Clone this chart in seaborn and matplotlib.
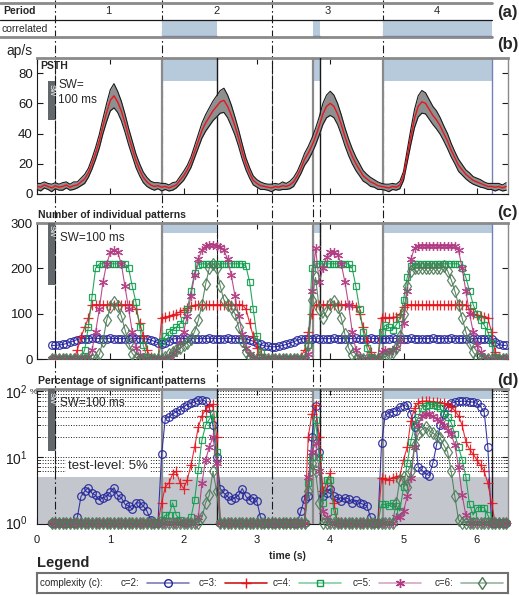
import numpy as np
import matplotlib
matplotlib.use("Agg")
import matplotlib.pyplot as plt
import matplotlib.ticker as mticker
from matplotlib.patches import Rectangle
import seaborn as sns

W, H = 519, 595

# ---------------- data ----------------
period_bounds = [0.25, 1.7, 3.2, 4.72, 6.2]
period_labels = ["1", "2", "3", "4"]
correlated_spans = [(1.7, 2.45), (3.76, 3.86), (4.72, 6.2)]
test_level = 5
sw_start, sw_end = 0.15, 0.25

# PSTH (ap/s), 0.00 .. 6.40 s in 50 ms bins
psth_mean = [5, 4.5, 6, 5, 4, 5.5, 4.5, 5, 6, 4.5, 5.5, 6, 8, 10, 14, 20, 27, 35, 45, 54,
             62, 65, 61, 55, 47, 38, 30, 22, 16, 11, 8, 6, 5, 5.5, 4.5, 5, 4, 5, 6, 9,
             12, 16, 21, 28, 35, 42, 47, 51, 55, 58, 61, 62, 58, 52, 45, 37, 28, 20, 14, 9,
             7, 5.5, 5, 4.5, 4, 5, 4.5, 5.5, 5, 6, 8, 12, 17, 23, 27, 32, 38, 45, 53, 58,
             60, 58, 53, 46, 38, 31, 25, 20, 16, 12, 10, 8, 7, 5.5, 5, 4.5, 4, 5, 4.5, 6,
             12, 25, 38, 50, 58, 61, 60, 56, 52, 49, 45, 40, 35, 29, 24, 19, 16, 13, 11, 9,
             8, 7, 6, 5, 5, 4.5, 5, 4, 5]
psth_spread = [2, 2.5, 2, 2, 2.5, 2, 2, 2.5, 2, 2, 2.5, 2, 2.5, 3, 3, 3.5, 4, 4.5, 5, 6,
               7, 8, 7, 6.5, 6, 5.5, 5, 4.5, 4, 3.5, 3, 2.5, 2.5, 2, 2.5, 2, 2, 2.5, 2, 2.5,
               3, 3, 3.5, 4, 4.5, 5, 5.5, 6, 6.5, 7, 7.5, 8, 7.5, 7, 6, 5.5, 5, 4, 3.5, 3,
               2.5, 2.5, 2, 2, 2.5, 2, 2, 2.5, 2, 2.5, 3, 3, 3.5, 4, 4.5, 5, 5.5, 6, 7, 7.5,
               8, 7.5, 7, 6.5, 6, 5.5, 5, 4.5, 4, 3.5, 3, 3, 2.5, 2.5, 2, 2, 2.5, 2, 2, 2.5,
               3, 4, 5, 6, 7, 7.5, 7, 6.5, 6, 6, 5.5, 5, 5, 4.5, 4, 4, 3.5, 3, 3, 2.5,
               2.5, 2.5, 2, 2, 2, 2.5, 2, 2, 2.5]

# number of individual patterns, 0.20 .. 6.40 s
count_c2 = [30, 30, 31, 32, 34, 37, 40, 43, 45, 45, 45, 46, 46, 45, 45, 45, 46, 45, 45, 45,
            45, 45, 46, 45, 45, 45, 44, 42, 39, 36, 34, 35, 40, 44, 45, 45, 45, 46, 45, 45,
            45, 45, 45, 46, 45, 45, 45, 45, 46, 45, 45, 45, 45, 44, 42, 39, 35, 32, 29, 28,
            27, 27, 28, 30, 32, 35, 38, 41, 44, 45, 45, 45, 46, 45, 45, 45, 45, 46, 45, 45,
            45, 45, 45, 46, 45, 44, 45, 46, 45, 45, 45, 45, 45, 46, 45, 45, 45, 45, 46, 45,
            45, 45, 45, 45, 46, 45, 45, 45, 45, 46, 45, 45, 45, 45, 46, 45, 45, 45, 45, 45,
            44, 38, 32, 30, 30]
count_c3 = [0, 0, 0, 0, 0, 0, 0, 20, 48, 70, 90, 120, 120, 120, 120, 120, 120, 120, 120, 120,
            120, 120, 120, 110, 80, 50, 20, 5, 0, 0, 90, 92, 94, 96, 100, 104, 108, 112, 116, 119,
            120, 120, 120, 120, 120, 120, 120, 120, 120, 120, 120, 120, 120, 110, 80, 50, 25, 10, 0, 0,
            0, 0, 0, 0, 0, 0, 0, 0, 5, 20, 60, 100, 120, 120, 120, 120, 120, 120, 120, 120,
            120, 120, 120, 115, 100, 70, 40, 15, 0, 0, 90, 92, 90, 92, 93, 100, 115, 120, 120, 120,
            120, 120, 120, 120, 120, 120, 120, 120, 120, 120, 120, 120, 120, 120, 110, 100, 96, 94, 92, 90,
            60, 15, 0, 0, 0]
count_c4 = [0, 0, 0, 0, 0, 0, 0, 0, 0, 20, 70, 137, 200, 210, 210, 210, 210, 210, 210, 210,
            210, 200, 160, 125, 70, 30, 5, 0, 0, 0, 40, 50, 60, 65, 70, 78, 85, 110, 150, 190,
            208, 210, 210, 210, 210, 210, 210, 210, 210, 210, 210, 210, 210, 205, 170, 110, 50, 15, 0, 0,
            0, 0, 0, 0, 0, 0, 0, 0, 0, 0, 30, 200, 210, 210, 210, 210, 210, 210, 210, 210,
            210, 210, 200, 160, 110, 60, 25, 5, 0, 0, 60, 75, 70, 65, 75, 90, 130, 180, 205, 210,
            210, 210, 210, 210, 210, 210, 210, 210, 210, 210, 210, 210, 200, 180, 150, 120, 100, 85, 75, 60,
            35, 5, 0, 0, 0]
count_c5 = [0, 0, 0, 0, 0, 0, 0, 0, 0, 0, 5, 20, 60, 110, 170, 210, 235, 240, 235, 210,
            160, 110, 60, 25, 8, 0, 0, 0, 0, 0, 0, 2, 5, 10, 20, 35, 60, 95, 140, 185,
            220, 240, 250, 252, 252, 250, 248, 240, 220, 185, 140, 95, 55, 25, 10, 2, 0, 0, 0, 0,
            0, 0, 0, 0, 0, 0, 0, 0, 0, 0, 10, 150, 245, 170, 200, 225, 235, 236, 230, 210,
            170, 120, 60, 20, 5, 0, 0, 0, 0, 0, 15, 20, 15, 20, 25, 40, 80, 150, 220, 245,
            250, 250, 250, 250, 250, 250, 250, 250, 250, 250, 250, 240, 200, 150, 100, 60, 30, 15, 5, 0,
            0, 0, 0, 0, 0]
count_c6 = [0, 0, 0, 0, 0, 0, 0, 0, 0, 0, 0, 0, 0, 10, 40, 85, 115, 125, 118, 95,
            65, 35, 12, 3, 0, 0, 0, 0, 0, 0, 0, 5, 10, 15, 20, 25, 30, 35, 45, 60,
            85, 120, 165, 200, 210, 200, 160, 130, 120, 115, 100, 70, 40, 15, 5, 0, 0, 0, 0, 0,
            0, 0, 0, 0, 0, 0, 0, 0, 0, 0, 30, 130, 180, 110, 90, 105, 122, 128, 115, 90,
            55, 25, 8, 0, 0, 0, 0, 0, 0, 0, 0, 5, 10, 15, 25, 50, 100, 160, 195, 200,
            200, 200, 200, 200, 200, 200, 200, 205, 195, 175, 150, 120, 90, 60, 35, 15, 5, 0, 0, 0,
            0, 0, 0, 0, 0]

# percentage of significant patterns, 0.20 .. 6.40 s
pct_c2 = [1, 1, 1, 1, 1, 1, 1, 1.2, 2.5, 3.0, 3.4, 2.8, 2.6, 2.2, 2.4, 2.5, 2.9, 3.4, 2.6, 2.4,
          1.9, 1.8, 1.6, 2.0, 2.0, 1.8, 1.5, 1.1, 1, 1, 11, 38, 40, 45, 48, 52, 58, 62, 65, 68,
          72, 73, 70, 55, 30, 10, 3.3, 2.8, 2.5, 2.2, 2.4, 2.6, 3.3, 2.5, 2.2, 2.4, 2.1, 1.2, 1, 1,
          1, 1, 1, 1, 1, 1, 1, 1, 1.5, 2.3, 2.5, 20, 60, 12, 2.5, 2.8, 3.3, 2.5, 2.4, 2.1,
          2.4, 2.3, 2.0, 2.2, 2.0, 1.9, 1.8, 1.2, 1, 1, 16, 43, 46, 48, 50, 58, 60, 62, 45, 28,
          7, 6.3, 5.5, 5.2, 8, 15, 30, 45, 58, 65, 68, 70, 70, 70, 68, 68, 65, 58, 48, 14,
          1, 1, 1, 1, 1]
pct_c3 = [1, 1, 1, 1, 1, 1, 1, 1, 1, 1, 1, 1, 1, 1, 1, 1, 1, 1, 1, 1,
          1, 1, 1, 1, 1, 1, 1, 1, 1, 1, 2.0, 3.5, 4.0, 5.5, 6.0, 4.0, 3.3, 4.5, 7.5, 14,
          28, 42, 52, 60, 63, 20, 1, 1, 1, 1, 1, 1, 1, 1, 1, 1, 1, 1, 1, 1,
          1, 1, 1, 1, 1, 1, 1, 1, 1, 1, 20, 45, 61, 20, 3, 4, 5.7, 2, 1, 1,
          1, 1, 1, 1, 1, 1, 1, 1, 1, 1, 4.8, 4.6, 4.5, 4.8, 5.0, 5.2, 9, 14, 35, 55,
          65, 70, 70, 70, 68, 68, 66, 65, 62, 58, 50, 42, 30, 17, 13, 11, 9, 7.5, 6, 4,
          2.0, 1, 1, 1, 1]
pct_c4 = [1, 1, 1, 1, 1, 1, 1, 1, 1, 1, 1, 1, 1, 1, 1, 1, 1, 1, 1, 1,
          1, 1, 1, 1, 1, 1, 1, 1, 1, 1, 1.1, 1.3, 1.3, 2.0, 1.3, 1.1, 1, 1, 1.2, 2.2,
          6.3, 18, 30, 37, 45, 12, 1, 1, 1, 1, 1, 1, 1, 1, 1, 1, 1, 1, 1, 1,
          1, 1, 1, 1, 1, 1, 1, 1, 1, 1, 4, 10, 36, 10, 2, 4.5, 4.5, 1.5, 1, 1,
          1, 1, 1, 1, 1, 1, 1, 1, 1, 1, 1.9, 1.9, 1.8, 2.0, 1.8, 1.5, 3.5, 8, 17, 30,
          40, 55, 60, 62, 62, 60, 55, 46, 40, 33, 22, 14, 9, 5, 1.9, 1.3, 1.7, 1.7, 1.7, 1.3,
          1, 1, 1, 1, 1]
pct_c5 = [1, 1, 1, 1, 1, 1, 1, 1, 1, 1, 1, 1, 1, 1, 1, 1, 1, 1, 1, 1,
          1, 1, 1, 1, 1, 1, 1, 1, 1, 1, 1, 1, 1, 1, 1, 1, 1, 1, 1, 1,
          1.2, 4, 9, 14, 20, 8, 1, 1, 1, 1, 1, 1, 1, 1, 1, 1, 1, 1, 1, 1,
          1, 1, 1, 1, 1, 1, 1, 1, 1, 1, 5, 12, 16, 6, 1.5, 1.2, 1, 1, 1, 1,
          1, 1, 1, 1, 1, 1, 1, 1, 1, 1, 1, 1, 1, 1, 1.2, 1.2, 1.5, 2.5, 4.8, 14,
          30, 42, 45, 44, 41, 38, 35, 30, 26, 22, 15, 7, 2.6, 1.3, 1, 1, 1, 1, 1, 1,
          1, 1, 1, 1, 1]
pct_c6 = [1, 1, 1, 1, 1, 1, 1, 1, 1, 1, 1, 1, 1, 1, 1, 1, 1, 1, 1, 1,
          1, 1, 1, 1, 1, 1, 1, 1, 1, 1, 1, 1, 1, 1, 1, 1, 1, 1, 1, 1,
          1, 1.2, 2.0, 2.6, 6, 3, 1, 1, 1, 1, 1, 1, 1, 1, 1, 1, 1, 1, 1, 1,
          1, 1, 1, 1, 1, 1, 1, 1, 1, 1, 3, 8, 6, 2, 1, 1, 1, 1, 1, 1,
          1, 1, 1, 1, 1, 1, 1, 1, 1, 1, 1, 1, 1, 1, 2.0, 4.5, 5.0, 3.5, 6, 15,
          22, 26, 28, 25, 23, 21, 19, 15, 12, 6, 2.5, 1.1, 1, 1, 1, 1, 1, 1, 1, 1,
          1, 1, 1, 1, 1]

complexities = ["c=2", "c=3", "c=4", "c=5", "c=6"]
counts = [count_c2, count_c3, count_c4, count_c5, count_c6]
percents = [pct_c2, pct_c3, pct_c4, pct_c5, pct_c6]

styles = {
    "c=2": dict(color="#25259c", marker="o", ms=5.5, line="#7c7cc0"),
    "c=3": dict(color="#e8141c", marker="+", ms=7.5, line="#d01818"),
    "c=4": dict(color="#0f9e4e", marker="s", ms=4.8, line="#7fd0a4"),
    "c=5": dict(color="#b03a82", marker=(6, 2, 0), ms=6.5, line="#d8a4c4"),
    "c=6": dict(color="#4e7b58", marker="d", ms=6.5, line="#98b49e"),
}

XMAX = 6.425
BLUE = "#b7cadb"
GRAY_LINE = "#8a8a8a"
DASHDOT = (0, (7, 2.5, 1.5, 2.5))


def rect(l, t, r, b):
    return [l / W, 1 - b / H, (r - l) / W, (b - t) / H]


def style_panel(ax):
    ax.set_xlim(0, XMAX)
    ax.set_facecolor("none")
    ax.set_xticks(range(7))
    ax.tick_params(direction="in", top=True, right=True, length=4, width=0.8,
                   labelsize=9.5, pad=3, labelbottom=False, colors="k")
    for side in ["left", "bottom"]:
        ax.spines[side].set_color("k")
        ax.spines[side].set_linewidth(0.8)
    ax.spines["right"].set_color(GRAY_LINE)
    ax.spines["right"].set_linewidth(1.0)
    ax.spines["top"].set_color(GRAY_LINE)
    ax.spines["top"].set_linewidth(2.0)
    ax.set_xlabel("")
    ax.set_ylabel("")


def marks(ax, dashdot, gray, black, end_color="#7880b8", ymin_shade=0.83):
    for x0, x1 in correlated_spans:
        ax.axvspan(x0, x1, ymin=ymin_shade, ymax=1, color=BLUE, lw=0, zorder=1)
    for x in dashdot:
        ax.axvline(x, color="k", lw=0.8, ls=DASHDOT, zorder=2)
    for x in gray:
        ax.axvline(x, color=GRAY_LINE, lw=1.6, zorder=4)
    for x in black:
        ax.axvline(x, color="k", lw=1.0, zorder=4)
    ax.axvline(6.2, color=end_color, lw=1.0, zorder=4)


def sw_bar(ax, y0, y1):
    ax.add_patch(Rectangle((sw_start, y0), sw_end - sw_start, y1 - y0,
                           color="#62676b", lw=0, zorder=3, clip_on=False))


sns.set_theme(style="ticks")
plt.rcParams["font.family"] = ["Liberation Sans", "DejaVu Sans"]
plt.rcParams["mathtext.fontset"] = "custom"
plt.rcParams["mathtext.rm"] = "Liberation Sans"

fig = plt.figure(figsize=(W / 100, H / 100), dpi=100)

# background layer with the period separators
ax_bg = fig.add_axes(rect(37, 0, 508, 524))
ax_bg.set_zorder(0)
ax_bg.set_xlim(0, XMAX)
ax_bg.set_ylim(524, 0)
ax_bg.axis("off")
ax_bg.vlines(period_bounds[:-1], 0, 524, color="k", lw=0.8, linestyles=DASHDOT)
ax_bg.vlines([2.45, 3.76, 3.86], 194, 524, color="k", lw=0.8, linestyles=DASHDOT)

# ---------- (a) periods ----------
ax_a = fig.add_axes(rect(37, 3, 508, 37))
ax_a.set_zorder(1)
ax_a.set_xlim(0, XMAX)
ax_a.set_ylim(0, 2)
ax_a.axis("off")
ax_a.set_facecolor("none")
for x0, x1 in correlated_spans:
    ax_a.add_patch(Rectangle((x0, 0), x1 - x0, 1, color=BLUE, lw=0, zorder=1))
    ax_a.plot([x0, x1], [0.06, 0.06], color="#4050c0", lw=0.9, zorder=2)
ax_a.plot([-0.5, 6.2], [2, 2], color=GRAY_LINE, lw=2, clip_on=False)
ax_a.plot([-0.5, 6.2], [1, 1], color="k", lw=0.9, clip_on=False)
ax_a.plot([-0.5, 6.2], [0, 0], color=GRAY_LINE, lw=2, clip_on=False, zorder=3)
for i, lab in enumerate(period_labels):
    xc = (period_bounds[i] + period_bounds[i + 1]) / 2
    ax_a.text(xc, 1.5, lab, ha="center", va="center", fontsize=8)
ax_a.text(-0.455, 1.5, "Period", ha="left", va="center", fontsize=7.5, fontweight="bold")
ax_a.text(-0.48, 0.5, "correlated", ha="left", va="center", fontsize=7.5)

# ---------- (b) PSTH ----------
ax_b = fig.add_axes(rect(37, 58, 508, 194))
ax_b.set_zorder(1)
psth_t = np.round(np.arange(len(psth_mean)) * 0.05, 2)
mean = np.array(psth_mean)
spread = np.array(psth_spread)
ax_b.fill_between(psth_t, mean - spread, mean + spread, color="#8f8f8f", lw=0, zorder=5)
sns.lineplot(x=psth_t, y=mean + spread, ax=ax_b, color="k", lw=0.8, zorder=6)
sns.lineplot(x=psth_t, y=mean - spread, ax=ax_b, color="k", lw=0.8, zorder=6)
sns.lineplot(x=psth_t, y=mean, ax=ax_b, color="#e8141c", lw=1.0, zorder=7)
style_panel(ax_b)
ax_b.set_ylim(0, 90)
ax_b.set_yticks([0, 20, 40, 60, 80])
marks(ax_b, dashdot=[0.25, 3.2], gray=[1.7, 3.76, 4.72], black=[2.45, 3.86], ymin_shade=0.83)
sw_bar(ax_b, 49, 75)
ax_b.text(sw_start + 0.04, 73, "SW", rotation=-90, color="w", fontsize=5.5,
          ha="center", va="top", zorder=4)
ax_b.text(0.29, 72, "SW=", fontsize=8.5, va="center")
ax_b.text(0.29, 62, "100 ms", fontsize=8.5, va="center")
ax_b.text(0.05, 85, "PSTH", fontsize=7.5, fontweight="bold", va="center")

# ---------- (c) number of patterns ----------
ax_c = fig.add_axes(rect(37, 223, 508, 359))
ax_c.set_zorder(1)
pat_t = np.round(0.2 + np.arange(len(count_c2)) * 0.05, 2)
for name, vals in zip(complexities, counts):
    st = styles[name]
    sns.lineplot(x=pat_t, y=vals, ax=ax_c, color=st["color"], lw=0.8, alpha=0.9,
                 marker=st["marker"], markersize=st["ms"], markeredgecolor=st["color"],
                 markerfacecolor="none", markeredgewidth=0.9, zorder=5)
style_panel(ax_c)
ax_c.set_ylim(0, 300)
ax_c.set_yticks([0, 100, 200, 300])
marks(ax_c, dashdot=[0.25, 2.45, 3.2], gray=[1.7, 3.76, 4.72], black=[3.86], ymin_shade=0.926)
sw_bar(ax_c, 163, 300)
ax_c.text(sw_start + 0.04, 296, "SW", rotation=-90, color="w", fontsize=5.5,
          ha="center", va="top", zorder=4)
ax_c.text(0.31, 268, "SW=100 ms", fontsize=8.5, va="center")
fig.text(38 / W, 1 - 215 / H, "Number of individual patterns", fontsize=7.5,
         fontweight="bold", va="center")

# ---------- (d) percentage significant ----------
ax_d = fig.add_axes(rect(37, 389, 508, 524))
ax_d.set_zorder(1)
ax_d.set_yscale("log")
ax_d.set_ylim(10 ** -0.02, 10 ** 2.03)
ax_d.axhspan(0.5, test_level, color="#c3c7cd", lw=0, zorder=1.5)
for name, vals in zip(complexities, percents):
    st = styles[name]
    sns.lineplot(x=pat_t, y=vals, ax=ax_d, color=st["color"], lw=0.8, alpha=0.9,
                 marker=st["marker"], markersize=st["ms"], markeredgecolor=st["color"],
                 markerfacecolor="none", markeredgewidth=0.9, zorder=5, clip_on=False)
style_panel(ax_d)
ax_d.tick_params(labelbottom=True)
ax_d.tick_params(axis="x", labelsize=8, pad=8)
ax_d.tick_params(axis="y", labelsize=10, pad=7)
ax_d.tick_params(which="minor", direction="in", right=True, length=2, width=0.6)
ax_d.yaxis.set_major_locator(mticker.LogLocator(base=10))
ax_d.yaxis.set_minor_locator(mticker.LogLocator(base=10, subs=range(2, 10)))
ax_d.yaxis.set_major_formatter(mticker.LogFormatterMathtext())
ax_d.yaxis.set_minor_formatter(mticker.NullFormatter())
ax_d.grid(True, which="both", axis="y", ls=":", color="k", lw=0.7)
ax_d.set_axisbelow(True)
marks(ax_d, dashdot=[0.25, 3.2], gray=[1.7, 3.76, 4.72], black=[2.45, 3.86],
      end_color="k", ymin_shade=0.926)
sw_bar(ax_d, 12.3, 10 ** 2.03)
ax_d.text(sw_start + 0.04, 98, "SW", rotation=-90, color="w", fontsize=5.5,
          ha="center", va="top", zorder=4)
ax_d.text(0.31, 66, "SW=100 ms", fontsize=8.5, va="center")
ax_d.text(0.42, 7.2, "test-level: 5%", fontsize=9.5, va="center", zorder=3,
          bbox=dict(facecolor="white", edgecolor="none", pad=1.5))
fig.text(29.5 / W, 1 - 392 / H, "%", fontsize=6, va="center")
fig.text(38 / W, 1 - 381 / H, "Percentage of significant patterns", fontsize=7.5,
         fontweight="bold", va="center")
fig.text(287 / W, 1 - 556 / H, "time (s)", fontsize=7.5, fontweight="bold",
         ha="center", va="center")

# panel letters and axis unit
for lab, y in [("(a)", 12), ("(b)", 44), ("(c)", 212), ("(d)", 381)]:
    fig.text(518 / W, 1 - y / H, lab, fontsize=12, fontweight="bold", ha="right", va="center")
fig.text(6 / W, 1 - 51 / H, "ap/s", fontsize=10, va="center")

# ---------- legend ----------
fig.text(37 / W, 1 - 563 / H, "Legend", fontsize=10.5, fontweight="bold", va="center")
ax_l = fig.add_axes(rect(37, 573, 508, 593))
ax_l.set_xlim(37, 508)
ax_l.set_ylim(0, 1)
ax_l.set_xticks([])
ax_l.set_yticks([])
for s in ax_l.spines.values():
    s.set_color("#707070")
    s.set_linewidth(1.5)
ax_l.text(40, 0.5, "complexity (c):", fontsize=7, va="center")
legend_x = [121, 199, 273, 353, 435]
for name, x in zip(complexities, legend_x):
    st = styles[name]
    ax_l.text(x, 0.5, name + ":", fontsize=7, va="center")
    ax_l.plot([x + 26, x + 68], [0.5, 0.5], color=st["line"], lw=1.2)
    ax_l.plot([x + 47], [0.5], color=st["color"], marker=st["marker"],
              ms=st["ms"], mfc="none", mec=st["color"], mew=1.0)

fig.savefig("out.png", dpi=100)
